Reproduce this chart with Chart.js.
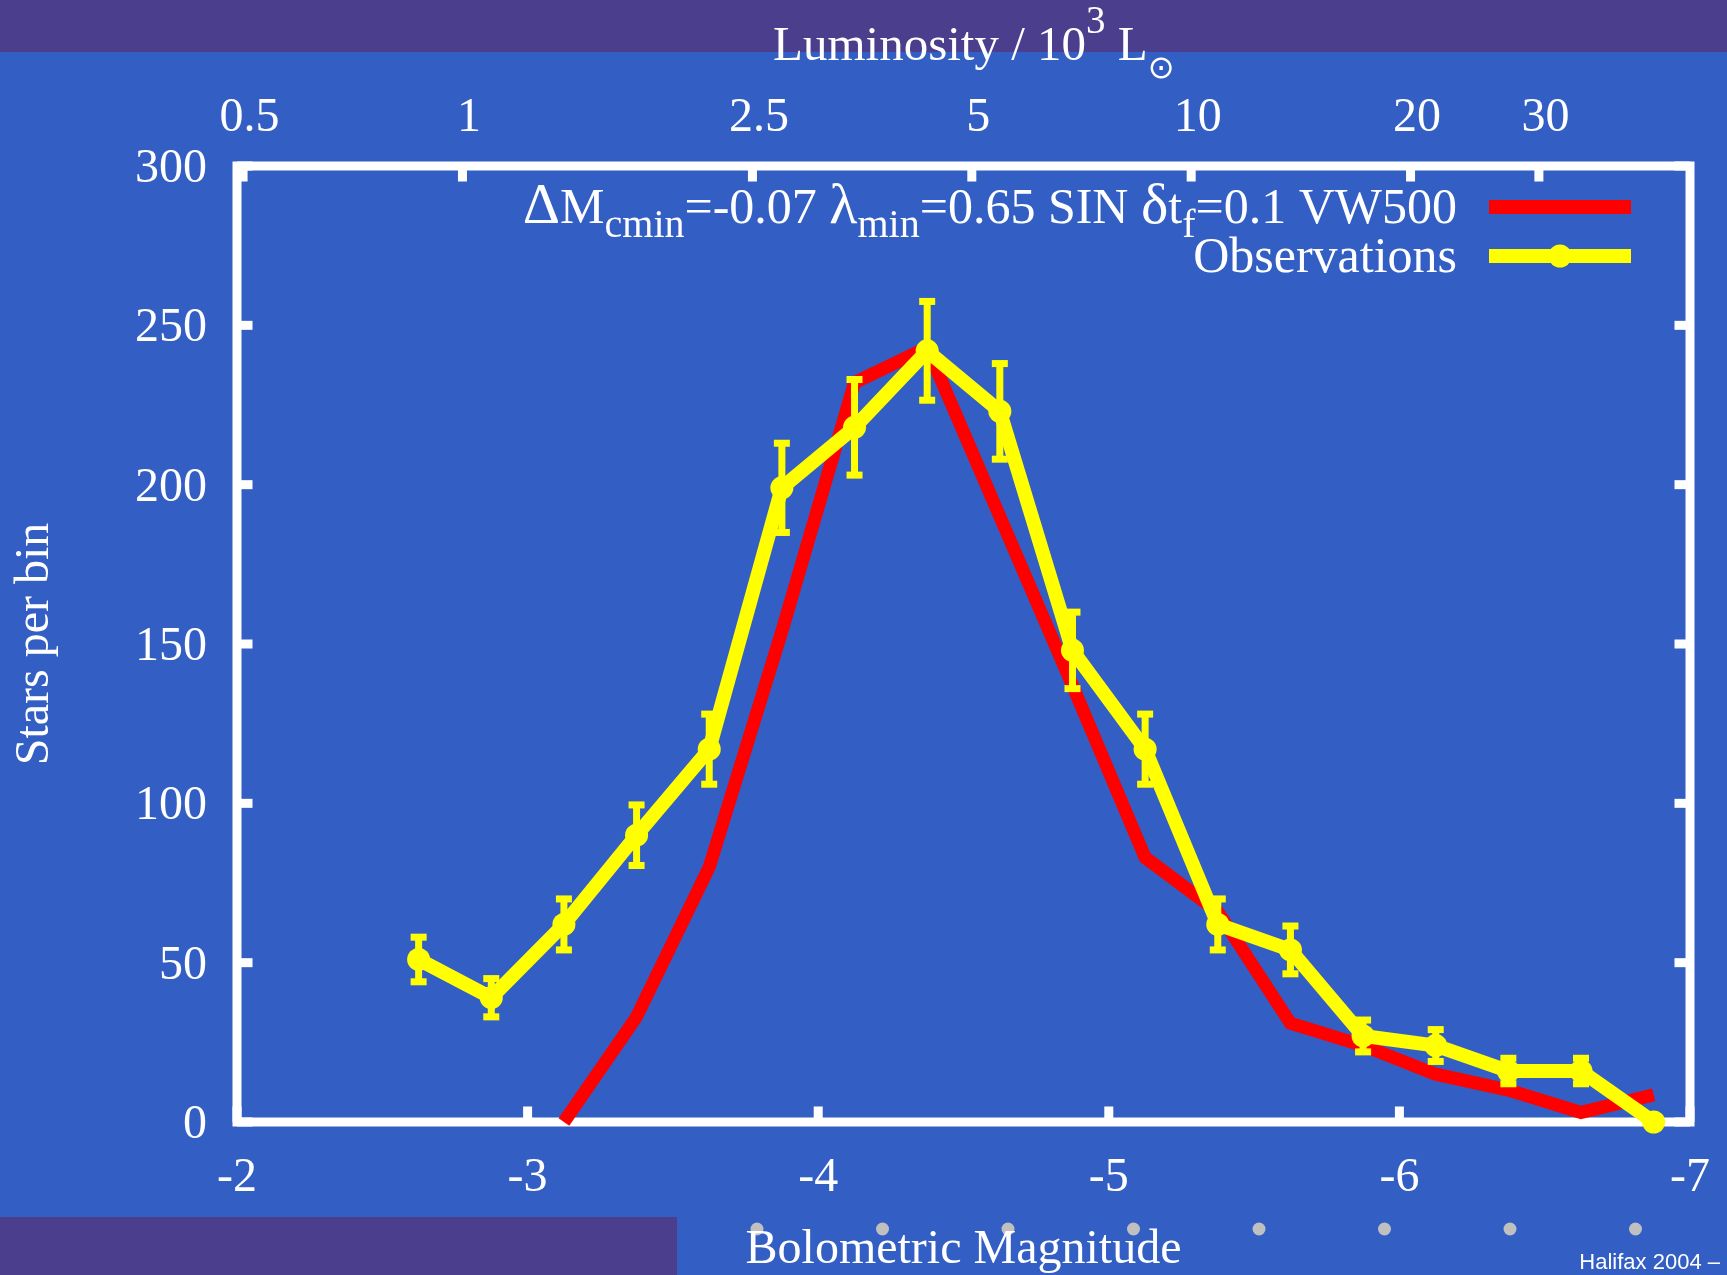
<!DOCTYPE html>
<html>
<head>
<meta charset="utf-8">
<title>Bolometric luminosity function</title>
<script src="https://cdn.jsdelivr.net/npm/chart.js@4.4.1/dist/chart.umd.min.js"></script>
<style>
  html, body { margin: 0; padding: 0; background: #335ec4; overflow: hidden; }
  #wrap { position: relative; width: 1727px; height: 1275px; }
</style>
</head>
<body>
<div id="wrap"><canvas id="lumChart"></canvas></div>
<script>
// bin centres (bolometric magnitude)
const binMag = [-2.625, -2.875, -3.125, -3.375, -3.625, -3.875, -4.125, -4.375, -4.625,
                -4.875, -5.125, -5.375, -5.625, -5.875, -6.125, -6.375, -6.625, -6.875]
// observed stars per bin and their error bars
const obsCounts = [51, 39, 62, 90, 117, 199, 218, 242, 223, 148, 117, 62, 54, 27, 24, 16, 16, 0]
const obsErr = [7, 6, 8, 9.5, 11, 14, 15, 15.5, 15, 12, 11, 8, 7.5, 5, 5, 4, 4, 0]
// model counts (first two bins empty)
const modelCounts = [null, null, 0, 33, 80, 154, 232, 243, 190, 137, 83, 66, 31, 24, 15, 10, 3, 8.5]

const magTicks = [-2, -3, -4, -5, -6, -7]
const countTicks = [0, 50, 100, 150, 200, 250, 300]
const lumTicks = [0.5, 1, 2.5, 5, 10, 20, 30]

// legend labels: pieces tagged sub / sup / greek get their own size and shift
const modelLabel = [["Δ", "greek"], ["M", ""], ["cmin", "sub"], ["=-0.07 ", ""], ["λ", "greek"], ["min", "sub"],
                    ["=0.65 SIN ", ""], ["δ", "greek"], ["t", ""], ["f", "sub"], ["=0.1 VW500", ""]]
const obsLabel = [["Observations", ""]]
const topTitle = [["Luminosity / 10", ""], ["3", "sup"], [" L", ""], ["⊙", "sun"]]

const serif = "'Liberation Serif', 'Times New Roman', serif"
const white = "#ffffff"
const yellow = "#ffff00"
const red = "#ff0000"

function fontFor(kind, size) {
  if (kind == "sub" || kind == "sup") return Math.round(size * 0.8) + "px " + serif
  if (kind == "greek") return Math.round(size * 1.16) + "px " + serif
  if (kind == "sun") return Math.round(size * 0.65) + "px 'DejaVu Sans', sans-serif"
  return size + "px " + serif
}
function shiftFor(kind, size) {
  if (kind == "sub") return size * 0.28
  if (kind == "sup") return -size * 0.55
  if (kind == "sun") return size * 0.37
  return 0
}
function partWidth(ctx, parts, size) {
  let w = 0
  parts.forEach(p => { ctx.font = fontFor(p[1], size); w += ctx.measureText(p[0]).width })
  return w
}
// draws mixed normal / sub / superscript text starting at x
function drawParts(ctx, parts, x, baseline, size) {
  ctx.textAlign = "left"
  ctx.textBaseline = "alphabetic"
  parts.forEach(p => {
    ctx.font = fontFor(p[1], size)
    ctx.fillText(p[0], x, baseline + shiftFor(p[1], size))
    x += ctx.measureText(p[0]).width
  })
}

// slide decoration behind the plot
const slideBackground = {
  id: "slideBackground",
  beforeDraw(chart) {
    const ctx = chart.ctx
    ctx.save()
    ctx.fillStyle = "#335ec4"
    ctx.fillRect(0, 0, chart.width, chart.height)
    ctx.fillStyle = "#4a3e8d"
    ctx.fillRect(0, 0, chart.width, 52)
    ctx.fillRect(0, 1217, 677, chart.height - 1217)
    ctx.fillStyle = "#c0c0c0"
    for (let i = 0; i < 8; i++) {
      ctx.beginPath()
      ctx.arc(757 + i * 125.5, 1229, 6.5, 0, Math.PI * 2)
      ctx.fill()
    }
    ctx.fillStyle = white
    ctx.font = "22px 'Liberation Sans', Arial, sans-serif"
    ctx.textAlign = "right"
    ctx.textBaseline = "alphabetic"
    ctx.fillText("Halifax 2004 –", 1720, 1269)
    ctx.restore()
  }
}

// white box with inward ticks on all four sides
const framePlugin = {
  id: "frame",
  beforeDatasetsDraw(chart) {
    const { ctx, chartArea: a, scales } = chart
    const len = 15.5, w = 9
    ctx.save()
    ctx.strokeStyle = white
    ctx.lineWidth = 9
    ctx.strokeRect(a.left, a.top, a.right - a.left, a.bottom - a.top)
    ctx.fillStyle = white
    countTicks.forEach(v => {
      const y = scales.y.getPixelForValue(v)
      ctx.fillRect(a.left, y - w / 2, len, w)
      ctx.fillRect(a.right - len, y - w / 2, len, w)
    })
    magTicks.forEach(v => {
      const x = scales.x.getPixelForValue(v)
      ctx.fillRect(x - w / 2, a.bottom - len, w, len)
    })
    lumTicks.forEach(v => {
      const x = scales.x2.getPixelForValue(v)
      ctx.fillRect(x - w / 2, a.top, w, len)
    })
    ctx.restore()
  }
}

// I-shaped error bars on the observations
const errorBars = {
  id: "errorBars",
  afterDatasetsDraw(chart) {
    const { ctx, scales: { x, y } } = chart
    ctx.save()
    ctx.fillStyle = yellow
    binMag.forEach((m, i) => {
      const e = obsErr[i]
      if (!e) return
      const px = x.getPixelForValue(m)
      const top = y.getPixelForValue(obsCounts[i] + e)
      const bot = y.getPixelForValue(obsCounts[i] - e)
      ctx.fillRect(px - 3.5, top, 7, bot - top)
      ctx.fillRect(px - 8, top - 3.5, 16, 7)
      ctx.fillRect(px - 8, bot - 3.5, 16, 7)
    })
    ctx.restore()
  }
}

// key in the top right corner and the luminosity title
const keyPlugin = {
  id: "key",
  afterDraw(chart) {
    const ctx = chart.ctx
    const size = 50
    const right = 1457
    ctx.save()
    ctx.fillStyle = white
    drawParts(ctx, modelLabel, right - partWidth(ctx, modelLabel, size), 223, size)
    drawParts(ctx, obsLabel, right - partWidth(ctx, obsLabel, size), 272, size)

    ctx.lineWidth = 14
    ctx.strokeStyle = red
    ctx.beginPath(); ctx.moveTo(1489, 207); ctx.lineTo(1631, 207); ctx.stroke()
    ctx.strokeStyle = yellow
    ctx.beginPath(); ctx.moveTo(1489, 256); ctx.lineTo(1631, 256); ctx.stroke()
    ctx.fillStyle = yellow
    ctx.beginPath(); ctx.arc(1560, 256, 11.5, 0, Math.PI * 2); ctx.fill()

    ctx.fillStyle = white
    drawParts(ctx, topTitle, 773, 60, 49)
    ctx.restore()
  }
}

const tickFont = { family: serif, size: 48 }
// no extra side padding for the edge labels of the horizontal axes
const noSidePadding = s => { s.paddingLeft = 0; s.paddingRight = 0 }

const lumChart = new Chart("lumChart", {
  type: "line",
  data: {
    datasets: [{
      label: "Observations",
      data: binMag.map((m, i) => ({ x: m, y: obsCounts[i] })),
      borderColor: yellow,
      backgroundColor: yellow,
      borderWidth: 14,
      pointRadius: 11.5,
      pointBorderWidth: 0,
      pointBackgroundColor: yellow,
      tension: 0,
      clip: false
    }, {
      label: "VW500",
      data: binMag.map((m, i) => ({ x: m, y: modelCounts[i] })),
      borderColor: red,
      backgroundColor: red,
      borderWidth: 13,
      pointRadius: 0,
      tension: 0,
      clip: false
    }]
  },
  options: {
    animation: false,
    responsive: true,
    maintainAspectRatio: false,
    layout: { padding: { left: 0, right: 37, top: 0, bottom: 0 } },
    plugins: { legend: { display: false }, tooltip: { enabled: false } },
    scales: {
      x: {
        type: "linear", position: "bottom", min: -7, max: -2, reverse: true,
        afterBuildTicks: s => { s.ticks = magTicks.map(v => ({ value: v })) },
        afterFit: s => { s.height = 153; noSidePadding(s) },
        grid: { display: false, drawTicks: false }, border: { display: false },
        ticks: { color: white, font: tickFont, padding: 28, autoSkip: false, maxRotation: 0, callback: v => String(v) },
        title: { display: true, text: "Bolometric Magnitude", color: white,
                 font: { family: serif, size: 48, lineHeight: 1 }, padding: { top: 0, bottom: 1 } }
      },
      x2: {
        type: "logarithmic", position: "top", min: 0.4905, max: 48.36,
        afterBuildTicks: s => { s.ticks = lumTicks.map(v => ({ value: v })) },
        afterFit: s => { s.height = 166; noSidePadding(s) },
        grid: { display: false, drawTicks: false }, border: { display: false },
        ticks: { color: white, font: tickFont, padding: 19, labelOffset: 6.5, autoSkip: false, maxRotation: 0, callback: v => String(v) }
      },
      y: {
        type: "linear", position: "left", min: 0, max: 300,
        afterBuildTicks: s => { s.ticks = countTicks.map(v => ({ value: v })) },
        afterFit: s => { s.width = 237 },
        grid: { display: false, drawTicks: false }, border: { display: false },
        ticks: { color: white, font: tickFont, padding: 30, labelOffset: 3.5, callback: v => String(v) },
        title: { display: true, text: "Stars per bin", color: white, font: tickFont, padding: { top: 7, bottom: 0 } }
      }
    }
  },
  plugins: [slideBackground, framePlugin, errorBars, keyPlugin]
})
</script>
</body>
</html>
